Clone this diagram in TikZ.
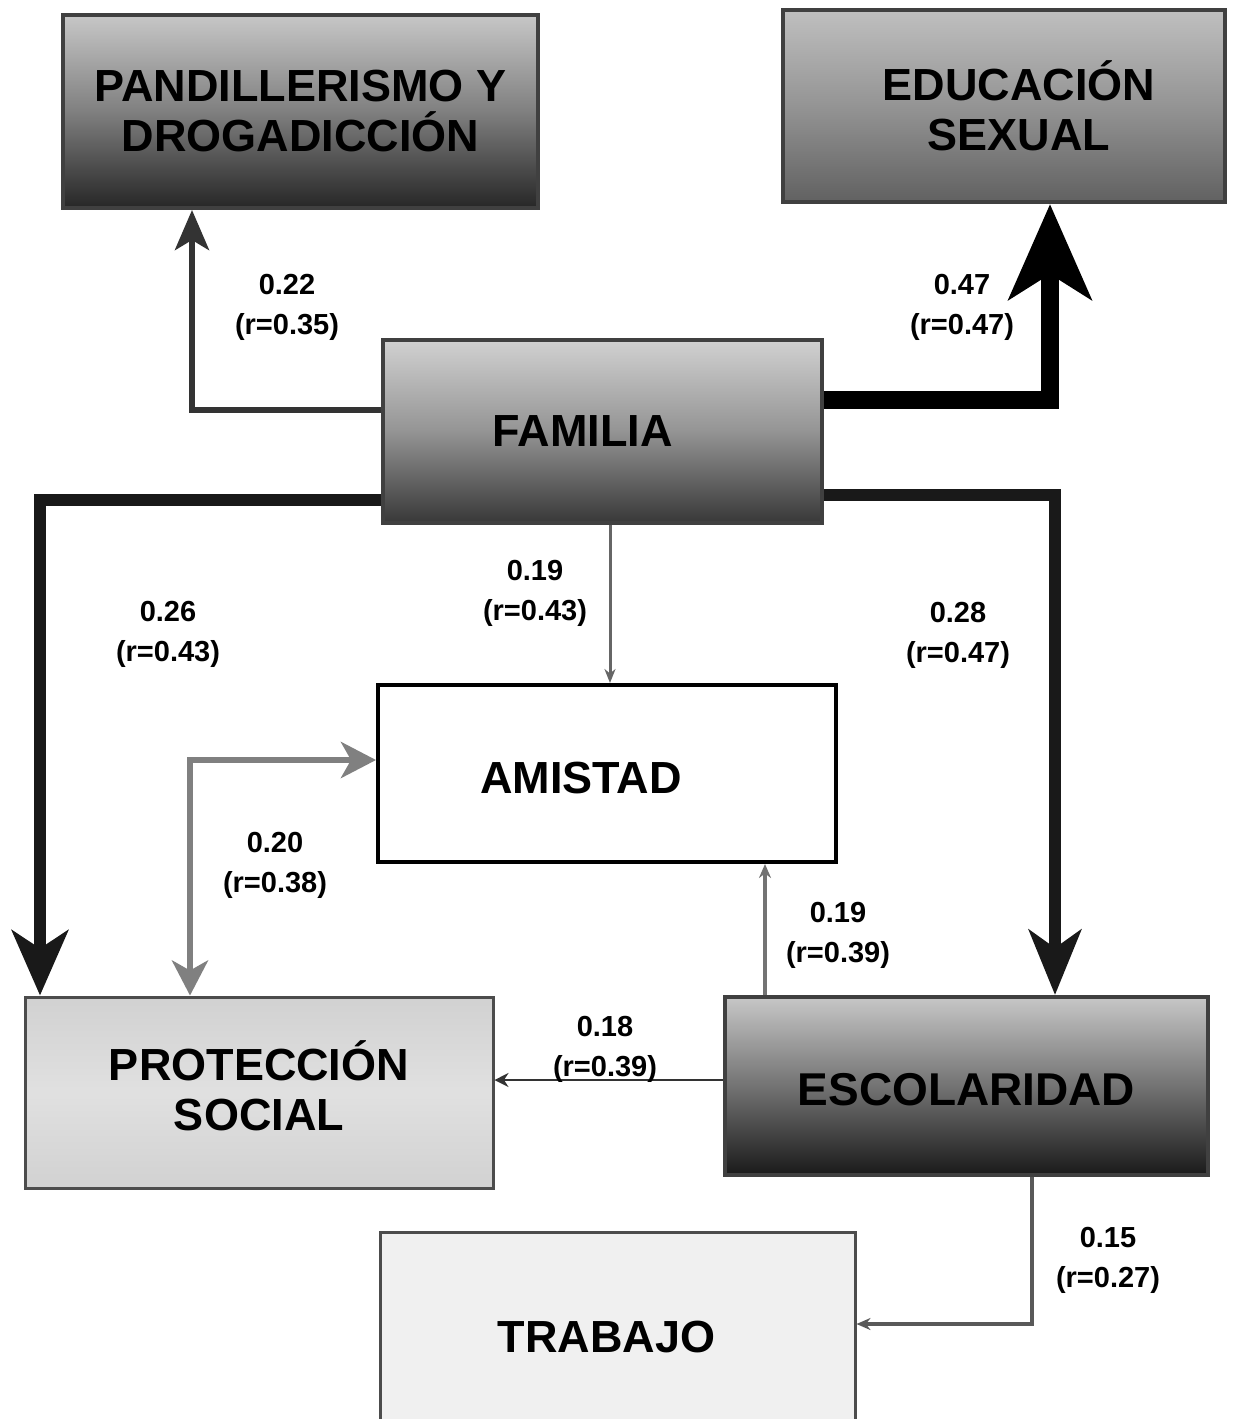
\documentclass[tikz,border=0pt]{standalone}
\usepackage{fontspec}
\setmainfont{Liberation Sans}
\usetikzlibrary{arrows.meta,calc}
\begin{document}
\begin{tikzpicture}[x=1pt,y=-1pt,
  darkbox/.style={draw=black!75, line width=4pt, inner sep=0pt},
  lightbox/.style={draw=black!70, line width=3pt, inner sep=0pt},
  boxtext/.style={font=\fontsize{45}{50}\selectfont\bfseries, align=center, inner sep=0pt},
  lbl/.style={font=\fontsize{29}{40}\selectfont\bfseries, align=center, inner sep=0pt},
  conn/.style={line join=miter},
]
\useasboundingbox (0,0) rectangle (1254,1419);
\fill[white] (0,0) rectangle (1254,1419);

% boxes
\node[darkbox, minimum width=475pt, minimum height=193pt,
  top color=black!22, bottom color=black!85, middle color=black!50,
  label={[boxtext]center:PANDILLERISMO Y\\DROGADICCIÓN}] (pand) at (300.5,111.5) {};
\node[darkbox, minimum width=442pt, minimum height=192pt,
  top color=black!25, bottom color=black!62, middle color=black!42,
  label={[boxtext, xshift=15pt]center:EDUCACIÓN\\SEXUAL}] (edu) at (1004,106) {};
\node[darkbox, minimum width=439pt, minimum height=183pt,
  top color=black!18, bottom color=black!78, middle color=black!42,
  label={[boxtext, xshift=-20pt]center:FAMILIA}] (fam) at (602.5,431.5) {};
\node[draw=black, line width=4pt, fill=white, inner sep=0pt, minimum width=458pt, minimum height=177pt,
  label={[boxtext, xshift=-26pt, yshift=-4pt]center:AMISTAD}] (amis) at (607,773.5) {};
\node[lightbox, minimum width=468pt, minimum height=191pt,
  top color=black!18, bottom color=black!18, middle color=black!12,
  label={[boxtext, yshift=7pt]center:PROTECCIÓN\\SOCIAL}] (prot) at (259,1092.5) {};
\node[darkbox, minimum width=483pt, minimum height=178pt,
  top color=black!22, bottom color=black!90, middle color=black!55,
  label={[boxtext, font=\fontsize{46}{50}\selectfont\bfseries, xshift=0pt, yshift=-4pt]center:ESCOLARIDAD}] (esc) at (966.5,1086) {};
\node[lightbox, minimum width=475pt, minimum height=192pt, fill=black!6,
  label={[boxtext, xshift=-11pt, yshift=-9pt]center:TRABAJO}] (trab) at (617.5,1328) {};

% connectors
\draw[conn, line width=6pt, draw=black!80, -{Stealth[length=40pt,width=34pt,inset=10pt]}]
  ([yshift=21.5pt]fam.west) -| ([xshift=-108.5pt]pand.south);
\draw[conn, line width=18pt, draw=black, -{Stealth[length=95pt,width=82pt,inset=25pt]}]
  ([yshift=31.5pt]fam.east) -| ([xshift=46pt]edu.south);
\draw[conn, line width=12pt, draw=black!90, -{Stealth[length=65pt,width=56pt,inset=18pt]}]
  ([yshift=-68.5pt]fam.west) -| ([xshift=-219pt]prot.north);
\draw[conn, line width=12pt, draw=black!90, -{Stealth[length=65pt,width=52pt,inset=18pt]}]
  ([yshift=-63.5pt]fam.east) -| ([xshift=88.5pt]esc.north);
\draw[conn, line width=3pt, draw=black!60, -{Stealth[length=14pt,width=11pt]}]
  ([xshift=7.5pt]fam.south) -- ([xshift=3pt]amis.north);
\draw[conn, line width=6pt, draw=black!50,
  {Stealth[length=35pt,width=36pt,inset=10pt]}-{Stealth[length=35pt,width=36pt,inset=10pt]}]
  ([xshift=-69pt]prot.north) |- ([yshift=13.5pt]amis.west);
\draw[conn, line width=4pt, draw=black!55, -{Stealth[length=14pt,width=12pt]}]
  ([xshift=-201.5pt]esc.north) -- ([xshift=158pt]amis.south);
\coordinate (e8) at ([yshift=6pt]esc.west);
\draw[conn, line width=2pt, draw=black!80, -{Stealth[length=14pt,width=14pt]}]
  (e8) -- (e8 -| prot.east);
\draw[conn, line width=3.5pt, draw=black!65, -{Stealth[length=14pt,width=12pt]}]
  ([xshift=65.5pt]esc.south) |- ([yshift=4pt]trab.east);

% labels
\node[lbl] (l1) at (287,307) {0.22\\(r=0.35)};
\node[lbl] (l2) at (962,307) {0.47\\(r=0.47)};
\node[lbl] (l3) at (168,634) {0.26\\(r=0.43)};
\node[lbl] (l4) at (535,593) {0.19\\(r=0.43)};
\node[lbl] (l5) at (958,635) {0.28\\(r=0.47)};
\node[lbl] (l6) at (275,865) {0.20\\(r=0.38)};
\node[lbl] (l7) at (838,935) {0.19\\(r=0.39)};
\node[lbl] (l8) at (605,1049) {0.18\\(r=0.39)};
\node[lbl] (l9) at (1108,1260) {0.15\\(r=0.27)};
\end{tikzpicture}
\end{document}
